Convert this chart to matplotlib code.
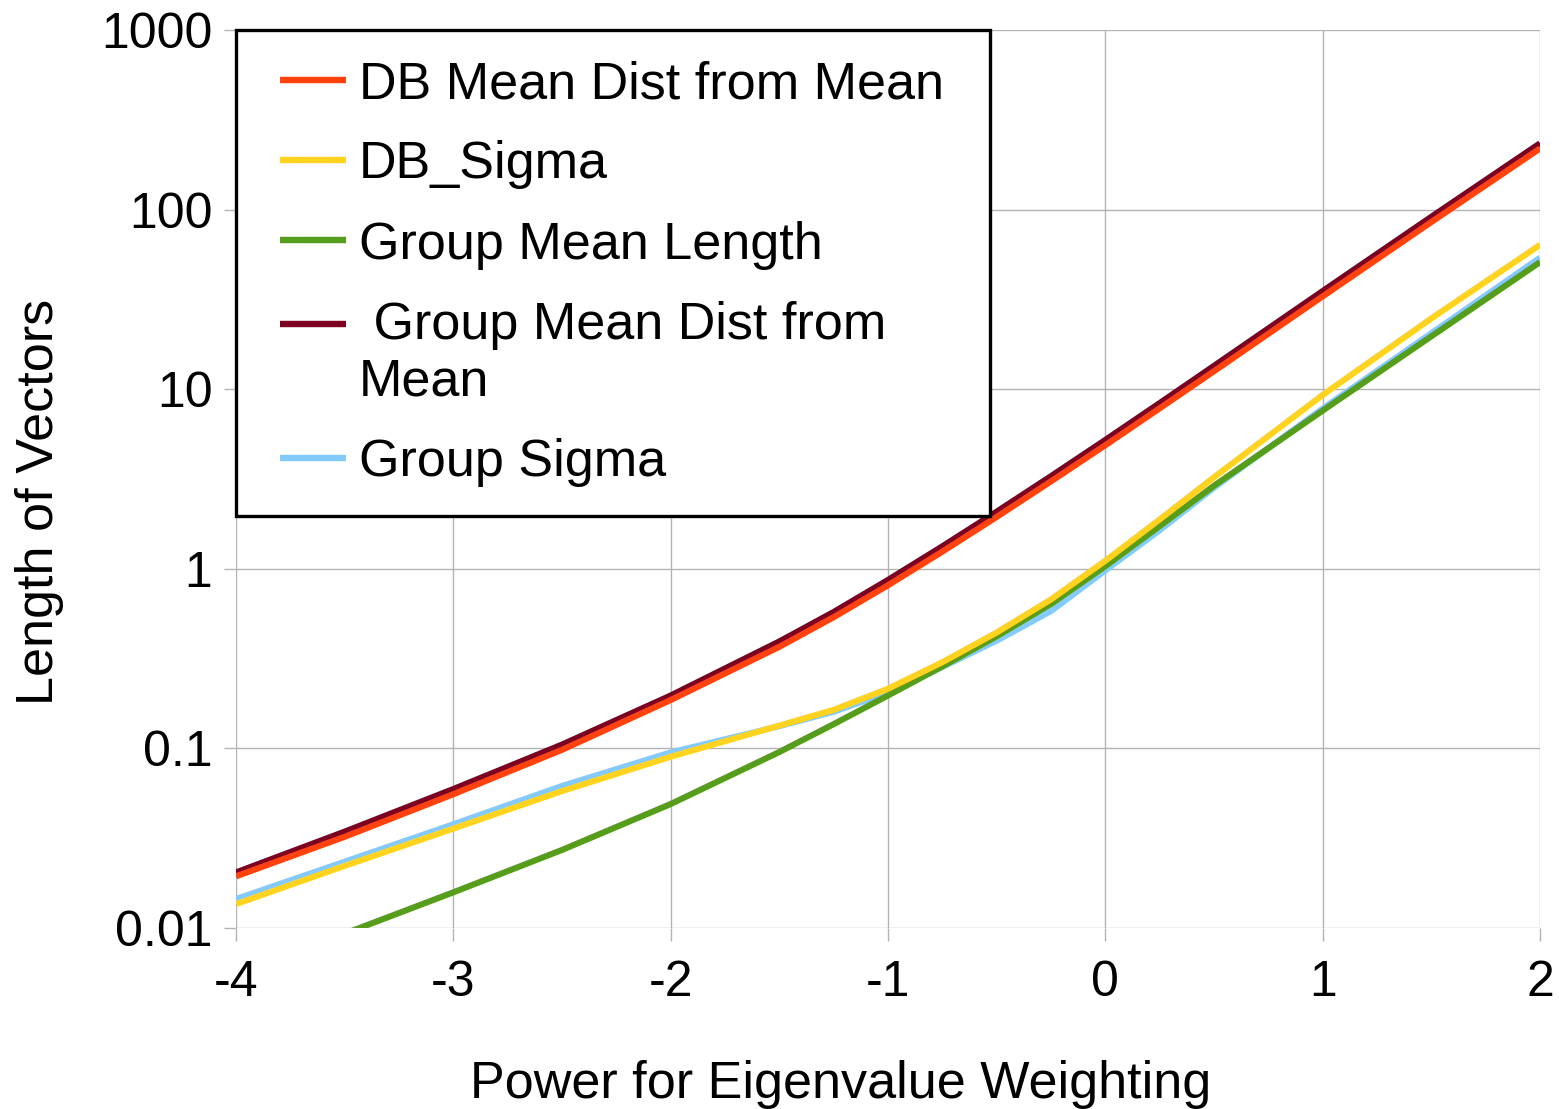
import numpy as np
import matplotlib
matplotlib.use('Agg')
import matplotlib.pyplot as plt
from matplotlib.ticker import FixedLocator, FixedFormatter, NullLocator
from matplotlib.legend_handler import HandlerLine2D

plt.rcParams['font.family'] = ['Liberation Sans', 'DejaVu Sans']

#---- data ----
power = [-4, -3.5, -3, -2.5, -2, -1.5, -1.25, -1, -0.75, -0.5, -0.25, 0, 0.25, 0.5, 1, 1.5, 2]

db_mean_dist  = [0.0194, 0.0322, 0.0556, 0.0982, 0.186, 0.368, 0.538, 0.81, 1.247, 1.945, 3.07, 4.88, 7.83, 12.6, 32.9, 85.3, 219]
db_sigma      = [0.0136, 0.0222, 0.0358, 0.0579, 0.0899, 0.134, 0.164, 0.215, 0.302, 0.442, 0.676, 1.109, 1.884, 3.236, 9.3, 24.8, 63.7]
grp_mean_len  = [0.0056, 0.0093, 0.0158, 0.0272, 0.049, 0.0955, 0.1365, 0.197, 0.286, 0.421, 0.637, 1.035, 1.73, 2.9, 7.6, 19.7, 51]
grp_mean_dist = [0.0204, 0.0344, 0.0594, 0.105, 0.197, 0.394, 0.575, 0.867, 1.334, 2.08, 3.28, 5.22, 8.37, 13.49, 35.2, 91.2, 234]
grp_sigma     = [0.0145, 0.0234, 0.0378, 0.0618, 0.095, 0.133, 0.16, 0.205, 0.284, 0.398, 0.582, 0.98, 1.64, 2.83, 7.8, 20.5, 54]

labels = ['DB Mean Dist from Mean', 'DB_Sigma', 'Group Mean Length',
          ' Group Mean Dist from\nMean', 'Group Sigma']
colors = ['#ff420e', '#ffd320', '#579d1c', '#7e0021', '#83caff']
series = [db_mean_dist, db_sigma, grp_mean_len, grp_mean_dist, grp_sigma]

ytick_vals = [0.01, 0.1, 1, 10, 100, 1000]
ytick_labels = ['0.01', '0.1', '1', '10', '100', '1000']
xtick_vals = [-4, -3, -2, -1, 0, 1, 2]


# legend key: start a bit in from the frame, and sit on the first text line
class KeyLine(HandlerLine2D):
    def __init__(self, lift=0.0, **kw):
        HandlerLine2D.__init__(self, **kw)
        self.lift = lift

    def create_artists(self, legend, orig_handle, xdescent, ydescent,
                       width, height, fontsize, trans):
        arts = HandlerLine2D.create_artists(self, legend, orig_handle, xdescent, ydescent,
                                            width, height, fontsize, trans)
        for a in arts:
            xd = np.asarray(a.get_xdata(), dtype=float)
            yd = np.asarray(a.get_ydata(), dtype=float)
            if len(xd) >= 2:
                xd = np.linspace(xd[0] + 10.0, xd[-1], len(xd))
            a.set_xdata(xd)
            a.set_ydata(yd + self.lift)
        return arts


#---- plotting ----
fig = plt.figure(figsize=(15.59, 11.09), dpi=100)
ax = fig.add_axes([236/1559, 1-928/1109, (1540-236)/1559, (928-30)/1109])

lines = []
# later series sit underneath, like the original
for k in range(len(series)):
    ln, = ax.plot(power, series[k], color=colors[k], lw=4.4, label=labels[k],
                  zorder=10-k, solid_capstyle='butt', solid_joinstyle='round')
    lines.append(ln)

ax.set_yscale('log')
ax.set_xlim(-4, 2)
ax.set_ylim(0.01, 1000)
ax.yaxis.set_major_locator(FixedLocator(ytick_vals))
ax.yaxis.set_major_formatter(FixedFormatter(ytick_labels))
ax.yaxis.set_minor_locator(NullLocator())
ax.set_xticks(xtick_vals)
ax.set_xticklabels([str(v) for v in xtick_vals])

ax.grid(True, color='#b3b3b3', lw=1.0)
ax.set_axisbelow(True)
for s in ax.spines.values():
    s.set_visible(False)
ax.tick_params(axis='both', length=9, width=1.0, color='#b3b3b3', labelsize=36)
ax.tick_params(axis='y', pad=8)
ax.tick_params(axis='x', pad=14)

ax.set_xlabel('Power for Eigenvalue Weighting', fontsize=37.5)
ax.xaxis.set_label_coords(0.464, -0.147)
ax.set_ylabel('Length of Vectors', fontsize=37.5)
ax.yaxis.set_label_coords(-0.132, 0.474)

hmap = {ln: KeyLine() for ln in lines}
hmap[lines[3]] = KeyLine(lift=22.0)
leg = ax.legend(handles=lines, handler_map=hmap,
                loc='upper left', mode='expand',
                bbox_to_anchor=(0, 0, (990-236)/1304, 0.9995), fontsize=37.5,
                frameon=True, fancybox=False, framealpha=1, handlelength=1.54,
                handletextpad=0.25, borderpad=0.57, labelspacing=0.6,
                borderaxespad=0)
leg.get_frame().set_edgecolor('black')
leg.get_frame().set_linewidth(2.4)
leg.set_zorder(20)
for h in leg.get_lines():
    h.set_linewidth(4.6)

fig.savefig('out.png', dpi=100)
